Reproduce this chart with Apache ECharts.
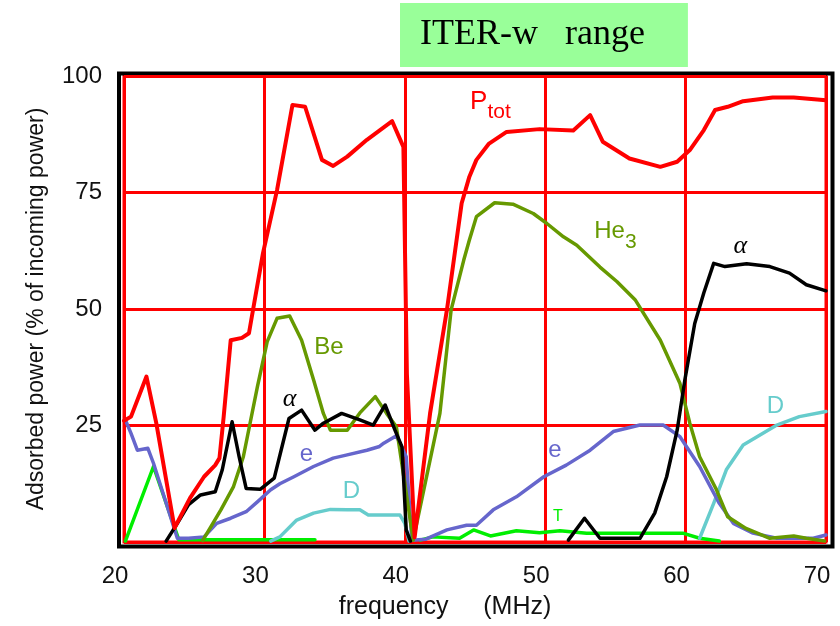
<!DOCTYPE html>
<html><head><meta charset="utf-8">
<script src="https://cdn.jsdelivr.net/npm/echarts@6/dist/echarts.min.js"></script>
<style>html,body{margin:0;padding:0;background:#fff}#c{width:840px;height:626px}</style>
</head><body><div id="c"></div>
<script>
// ---- data (frequency MHz, absorbed power %) ----
const xTicks = [20, 30, 40, 50, 60, 70];
const yTicks = [0, 25, 50, 75, 100];
const titleText = 'ITER-w   range';
const xName = 'frequency     (MHz)';
const yName = 'Adsorbed power (% of incoming power)';

const pTot = [[20.0,26.0],[20.5,26.9],[21.6,35.5],[22.3,25.5],[23.6,3.0],[24.7,9.4],[25.7,14],[26.5,16.5],[26.8,18],[27.1,26.9],[27.6,43.3],[28.4,43.8],[28.9,44.8],[29.2,50],[29.9,62],[30.9,75.5],[32.0,93.8],[32.9,93.4],[34.1,82],[34.9,80.7],[35.9,82.7],[37.3,86.3],[39.1,90.3],[39.9,84.8],[40.15,36],[40.7,1],[41.8,27.6],[43.0,49.8],[44.05,72.7],[44.6,78.4],[45.1,82],[46.0,85.5],[47.25,88],[49.6,88.6],[52.0,88.3],[53.2,91.6],[54.1,85.9],[56.0,82.3],[58.2,80.5],[59.4,81.6],[60.3,84.1],[61.3,88.4],[62.1,92.7],[63.0,93.4],[64.1,94.6],[66.2,95.4],[67.7,95.4],[70,94.8]];

const beHe3 = [[25.6,0.3],[26.9,6.9],[27.8,11.9],[28.5,18.3],[29.5,33.3],[30.2,43],[30.9,48],[31.8,48.5],[32.65,43.3],[33.5,34.8],[34.2,27.6],[34.7,24],[35.9,24],[36.8,27.7],[37.9,31.2],[38.7,27.6],[39.4,24.7],[40.6,0.4],[42.5,27.6],[43.3,49.8],[44.2,60.5],[44.6,64.8],[45.1,69.8],[46.4,72.8],[47.7,72.5],[49.15,70.5],[50.1,68.4],[51.3,65.5],[52.25,63.7],[53.9,59],[55.1,55.9],[56.4,52],[58.2,43.3],[59.6,34],[60.3,25.5],[61.0,18.3],[62.2,11.2],[63.0,5.4],[64.3,2.9],[66.0,0.8],[67.7,1.3],[68.6,0.8],[69.9,0.2]];

const alpha = [[23.0,0.2],[23.8,4],[24.6,8],[25.45,10.1],[26.5,10.8],[27.0,15.5],[27.7,25.8],[28.2,18.3],[28.7,11.5],[29.7,11.3],[30.7,13.7],[31.75,26.5],[32.65,28.3],[33.6,24],[34.2,25.5],[35.5,27.6],[36.8,26.2],[37.75,25.1],[38.6,29.4],[39.3,24],[39.8,20.4],[40.1,2.6],[40.4,0.2],[45,'-'],[51.65,0.4],[52.8,5.1],[53.9,0.8],[56.75,0.8],[57.8,6.2],[58.65,14],[59.4,24],[59.95,34.8],[60.65,46.9],[61.3,53.5],[62.0,59.8],[62.8,59.1],[64.35,59.7],[66.0,59.1],[67.4,57.7],[68.6,55.2],[70,53.9]];

const elec = [[20.1,26.2],[20.5,23.3],[20.95,19.7],[21.7,20.1],[22.1,16.9],[23.8,0.8],[24.6,0.8],[25.7,1.1],[26.6,4],[27.6,5.1],[28.7,6.5],[29.5,8.6],[30.45,11.2],[31.1,12.5],[32.1,14],[33.5,16.2],[34.9,18],[35.9,18.7],[37.3,19.7],[38.2,20.5],[38.5,21.2],[39.4,22.8],[40.1,18.3],[40.5,0.4],[41.5,0.6],[43.0,2.6],[44.4,3.6],[45.1,3.6],[46.3,6.9],[47.95,9.7],[49.9,14],[51.5,16.5],[53.2,19.7],[54.85,23.7],[56.75,25.1],[58.4,25.1],[59.6,22.6],[61.0,16.2],[62.4,8.3],[63.4,4.0],[64.8,1.9],[66.5,0.8],[69.1,0.8],[70,1.5]];

const deut = [[30.45,0.2],[31.1,1.1],[32.3,4.7],[33.5,6.2],[34.7,7],[35.9,6.9],[36.8,6.9],[37.4,5.8],[38.2,5.8],[39.65,5.8],[40.0,4],[40.3,0.2],[50,'-'],[61.0,0.8],[62.0,8.3],[62.9,15.5],[64.1,20.8],[66.5,25.1],[68.1,26.9],[70,28]];

const trit = [[20.1,0.2],[22.1,16.2],[23.9,0.5],[33.6,0.5],[38,'-'],[41.1,0.4],[42.0,1.1],[43.9,0.8],[44.9,2.6],[46.1,1.3],[47.95,2.4],[49.6,2.0],[51.05,2.4],[52.95,1.9],[56.3,1.9],[59.8,1.9],[61.0,0.8],[62.4,0.2]];

// curve label anchors (data coordinates)
const labelPtot = [46.1, 93.3];
const labelHe3 = [55.0, 65.5];
const labelBe = [34.6, 41.8];
const labelAlphaL = [31.8, 30.7];
const labelAlphaR = [63.9, 63.5];
const labelEL = [33.0, 18.7];
const labelER = [50.7, 19.7];
const labelDL = [36.2, 10.9];
const labelDR = [66.4, 29.2];
const labelT = [50.9, 5.4];

const SANS = '"Liberation Sans", Arial, Helvetica, sans-serif';
const SERIF = '"Liberation Serif", "Times New Roman", serif';
const C = { red:'#ff0000', olive:'#669900', black:'#000000', e:'#6666cc', d:'#66cccc', t:'#00ee00' };

function mk(labels) {
  return {
    symbol: 'circle', symbolSize: 1, silent: true, animation: false,
    itemStyle: { color: 'rgba(0,0,0,0)' },
    label: { show: true, position: 'inside' },
    data: labels.map(l => ({ coord: l.coord, label: Object.assign({ show: true, position: 'inside', formatter: l.text }, l.style) }))
  };
}
function line(name, data, color, width, z, labels) {
  return {
    name, type: 'line', data, symbol: 'none', z, connectNulls: false,
    lineStyle: { color, width, join: 'round', cap: 'round' },
    itemStyle: { color },
    markPoint: labels ? mk(labels) : undefined,
    animation: false
  };
}
const plain = (color, size) => ({ color, fontFamily: SANS, fontSize: size || 24 });

const chart = echarts.init(document.getElementById('c'));
chart.setOption({
  animation: false,
  title: {
    text: titleText, left: 400, top: 3, padding: [14, 43, 14, 20],
    backgroundColor: '#99ff99',
    textStyle: { fontFamily: SERIF, fontSize: 36, fontWeight: 'normal', color: '#000', lineHeight: 36 }
  },
  grid: [
    { left: 124, right: 14, top: 76, bottom: 84, show: true, borderColor: '#ff0000', borderWidth: 3, backgroundColor: '#fff' },
    { left: 119, right: 7.5, top: 73.5, bottom: 79.5, show: true, borderColor: '#000', borderWidth: 4, backgroundColor: 'transparent' }
  ],
  xAxis: [
    {
      type: 'value', gridIndex: 0, min: xTicks[0], max: xTicks[xTicks.length - 1], interval: xTicks[1] - xTicks[0],
      axisLine: { show: false }, axisTick: { show: false },
      splitLine: { show: true, lineStyle: { color: '#ff0000', width: 3 } },
      axisLabel: { fontFamily: SANS, fontSize: 24, color: '#111', margin: 22, padding: [0, 18, 0, 0] },
      name: xName, nameLocation: 'middle', nameGap: 53,
      nameTextStyle: { fontFamily: SANS, fontSize: 25, color: '#111', padding: [0, 60, 0, 0] }
    },
    { type: 'value', gridIndex: 1, show: false, min: 0, max: 1 }
  ],
  yAxis: [
    {
      type: 'value', gridIndex: 0, min: yTicks[0], max: yTicks[yTicks.length - 1], interval: yTicks[1] - yTicks[0],
      axisLine: { show: false }, axisTick: { show: false },
      splitLine: { show: true, lineStyle: { color: '#ff0000', width: 3 } },
      axisLabel: { fontFamily: SANS, fontSize: 24, color: '#111', margin: 22, showMinLabel: false },
      name: yName, nameLocation: 'middle', nameGap: 76,
      nameTextStyle: { fontFamily: SANS, fontSize: 23, color: '#111' }
    },
    { type: 'value', gridIndex: 1, show: false, min: 0, max: 1 }
  ],
  series: [
    line('T', trit, C.t, 3.5, 2, [{ coord: labelT, text: 'T', style: plain(C.t, 16) }]),
    line('D', deut, C.d, 3.5, 3, [
      { coord: labelDL, text: 'D', style: plain(C.d) },
      { coord: labelDR, text: 'D', style: plain(C.d) }]),
    line('e', elec, C.e, 3.5, 4, [
      { coord: labelEL, text: 'e', style: plain(C.e) },
      { coord: labelER, text: 'e', style: plain(C.e) }]),
    line('Be/He3', beHe3, C.olive, 3.5, 5, [
      { coord: labelBe, text: 'Be', style: plain(C.olive) },
      { coord: labelHe3, text: '{a|He}{b|3}', style: { rich: {
          a: { color: C.olive, fontFamily: SANS, fontSize: 24, padding: [0, 0, 10, 0] },
          b: { color: C.olive, fontFamily: SANS, fontSize: 21, padding: [10, 0, 0, 0] } } } }]),
    line('alpha', alpha, C.black, 3.5, 6, [
      { coord: labelAlphaL, text: 'α', style: { color: '#000', fontFamily: SERIF, fontStyle: 'italic', fontSize: 26 } },
      { coord: labelAlphaR, text: 'α', style: { color: '#000', fontFamily: SERIF, fontStyle: 'italic', fontSize: 26 } }]),
    line('Ptot', pTot, C.red, 4, 7, [
      { coord: labelPtot, text: '{a|P}{b|tot}', style: { rich: {
          a: { color: C.red, fontFamily: SANS, fontSize: 26, padding: [0, 0, 10, 0] },
          b: { color: C.red, fontFamily: SANS, fontSize: 21, padding: [10, 0, 0, 0] } } } }])
  ]
});
</script>
</body></html>
